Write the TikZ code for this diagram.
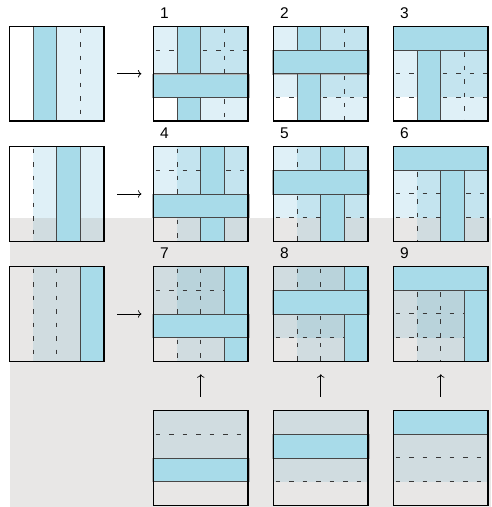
\documentclass[tikz,border=0pt]{standalone}
\usepackage{fontspec}
\setmainfont{Liberation Sans}
\usetikzlibrary{arrows.meta}
\definecolor{stripc}{HTML}{A8DBE9}
\definecolor{lightc}{HTML}{DFF0F7}
\definecolor{midc}{HTML}{C4E4EF}
\definecolor{bgc}{HTML}{E8E7E6}
\definecolor{lightg}{HTML}{D0DCE0}
\definecolor{midg}{HTML}{B9D3DB}
\newcommand\sqgrid[3]{\begin{scope}[shift={(#1pt,-#2pt)},x=23.625pt,y=-23.625pt]#3\end{scope}}
\newcommand\hstrip[1]{\filldraw[fs,draw=black!30,line width=.5pt] (-0.04,#1) rectangle (4.04,#1+1);
  \draw[sol] (0,#1)--(4,#1) (0,#1+1)--(4,#1+1);}
\newcommand\topstrip{\fill[fs] (0,0) rectangle (4,1); \draw[sol] (0,1)--(4,1);}
\tikzset{
  fs/.style={fill=stripc},
  fl/.style={fill=lightc},
  fm/.style={fill=midc},
  flg/.style={fill=lightg},
  fmg/.style={fill=midg},
  sol/.style={draw=black!72,line width=0.8pt},
  dsh/.style={draw=black!78,line width=1pt,dash pattern=on 4.5pt off 9pt,dash phase=-2pt},
  sqframe/.style={draw=black,line width=1.1pt,minimum size=94.5pt,inner sep=0pt,fill=none},
  lab/.style={anchor=base west,inner sep=0pt,font=\fontsize{15.5pt}{15.5pt}\selectfont},
  arr/.style={-{To[length=3.5pt,width=7.5pt]},line width=0.7pt,black}
}
\begin{document}
\begin{tikzpicture}[x=1pt,y=-1pt]
\useasboundingbox (0,0) rectangle (491,507);
\fill[bgc] (9.5,217.6) rectangle (491,506.5);

% ---------- row 1 ----------
\sqgrid{9.5}{26.5}{
 \fill[fs] (1,0) rectangle (2,4);
 \fill[fl] (2,0) rectangle (4,4);
 \draw[sol] (1,0)--(1,4) (2,0)--(2,4);
 \draw[dsh] (3,0)--(3,4);
}
\node[sqframe] (l1) at (9.5+47.25,26.5+47.25) {};

\sqgrid{153.5}{26.5}{
 \fill[fl] (0,0) rectangle (1,2);
 \fill[fs] (1,0) rectangle (2,4);
 \fill[fm] (2,0) rectangle (4,2);
 \fill[fl] (2,3) rectangle (4,4);
 \hstrip{2}
 \draw[sol] (1,0)--(1,2) (2,0)--(2,2) (1,3)--(1,4) (2,3)--(2,4);
 \draw[dsh] (0,1)--(1,1) (2,1)--(4,1) (3,0)--(3,2) (3,3)--(3,4);
}
\node[sqframe] (s1) at (153.5+47.25,26.5+47.25) {};

\sqgrid{273.5}{26.5}{
 \fill[fl] (0,0) rectangle (1,1); \fill[fm] (2,0) rectangle (4,1);
 \fill[fl] (0,2) rectangle (1,3); \fill[fm] (2,2) rectangle (4,3);
 \fill[fl] (2,3) rectangle (4,4);
 \fill[fs] (1,0) rectangle (2,4);
 \hstrip{1}
 \draw[sol] (1,0)--(1,1) (2,0)--(2,1) (1,2)--(1,4) (2,2)--(2,4);
 \draw[dsh] (0,3)--(1,3) (2,3)--(4,3) (3,0)--(3,1) (3,2)--(3,4);
}
\node[sqframe] (s2) at (273.5+47.25,26.5+47.25) {};

\sqgrid{393.5}{26.5}{
 \fill[fl] (0,1) rectangle (1,3); \fill[fm] (2,1) rectangle (4,3); \fill[fl] (2,3) rectangle (4,4);
 \fill[fs] (1,1) rectangle (2,4);
 \topstrip
 \draw[sol] (1,1)--(1,4) (2,1)--(2,4);
 \draw[dsh] (0,2)--(1,2) (2,2)--(4,2) (0,3)--(1,3) (2,3)--(4,3) (3,1)--(3,4);
}
\node[sqframe] (s3) at (393.5+47.25,26.5+47.25) {};

% ---------- row 2 ----------
\sqgrid{9.5}{146.7}{
 \fill[fl] (1,0) rectangle (2,3); \fill[fl] (3,0) rectangle (4,3);
 \fill[flg] (1,3) rectangle (2,4); \fill[flg] (3,3) rectangle (4,4);
 \fill[fs] (2,0) rectangle (3,4);
 \draw[sol] (2,0)--(2,4) (3,0)--(3,4);
 \draw[dsh] (1,0)--(1,4);
}
\node[sqframe] (l2) at (9.5+47.25,146.7+47.25) {};

\sqgrid{153.5}{146.7}{
 \fill[fl] (0,0) rectangle (1,2);
 \fill[fm] (1,0) rectangle (2,2);
 \fill[fs] (2,0) rectangle (3,4);
 \fill[fm] (3,0) rectangle (4,2);
 \fill[flg] (1,3) rectangle (2,4); \fill[flg] (3,3) rectangle (4,4);
 \hstrip{2}
 \draw[sol] (2,0)--(2,2) (3,0)--(3,2) (2,3)--(2,4) (3,3)--(3,4);
 \draw[dsh] (0,1)--(2,1) (3,1)--(4,1) (1,0)--(1,2) (1,3)--(1,4);
}
\node[sqframe] (s4) at (153.5+47.25,146.7+47.25) {};

\sqgrid{273.5}{146.7}{
 \fill[fl] (0,0) rectangle (1,1); \fill[fm] (1,0) rectangle (2,1); \fill[fm] (3,0) rectangle (4,1);
 \fill[fl] (0,2) rectangle (1,3); \fill[fm] (1,2) rectangle (2,3); \fill[fm] (3,2) rectangle (4,3);
 \fill[flg] (1,3) rectangle (2,4); \fill[flg] (3,3) rectangle (4,4);
 \fill[fs] (2,0) rectangle (3,4);
 \hstrip{1}
 \draw[sol] (2,0)--(2,1) (3,0)--(3,1) (2,2)--(2,4) (3,2)--(3,4);
 \draw[dsh] (0,3)--(2,3) (3,3)--(4,3) (1,0)--(1,1) (1,2)--(1,4);
}
\node[sqframe] (s5) at (273.5+47.25,146.7+47.25) {};

\sqgrid{393.5}{146.7}{
 \fill[fl] (0,1) rectangle (1,3); \fill[fm] (1,1) rectangle (2,3); \fill[fm] (3,1) rectangle (4,3);
 \fill[flg] (1,3) rectangle (2,4); \fill[flg] (3,3) rectangle (4,4);
 \fill[fs] (2,1) rectangle (3,4);
 \topstrip
 \draw[sol] (2,1)--(2,4) (3,1)--(3,4);
 \draw[dsh] (0,2)--(2,2) (3,2)--(4,2) (0,3)--(2,3) (3,3)--(4,3) (1,1)--(1,4);
}
\node[sqframe] (s6) at (393.5+47.25,146.7+47.25) {};

% ---------- row 3 ----------
\sqgrid{9.5}{266.7}{
 \fill[flg] (1,0) rectangle (3,4);
 \fill[fs] (3,0) rectangle (4,4);
 \draw[sol] (3,0)--(3,4);
 \draw[dsh] (1,0)--(1,4) (2,0)--(2,4);
}
\node[sqframe] (l3) at (9.5+47.25,266.7+47.25) {};

\sqgrid{153.5}{266.7}{
 \fill[flg] (0,0) rectangle (1,2); \fill[fmg] (1,0) rectangle (3,2);
 \fill[flg] (1,3) rectangle (3,4);
 \fill[fs] (3,0) rectangle (4,4);
 \hstrip{2}
 \draw[sol] (3,0)--(3,2) (3,3)--(3,4);
 \draw[dsh] (0,1)--(3,1) (1,0)--(1,2) (2,0)--(2,2) (1,3)--(1,4) (2,3)--(2,4);
}
\node[sqframe] (s7) at (153.5+47.25,266.7+47.25) {};

\sqgrid{273.5}{266.7}{
 \fill[flg] (0,0) rectangle (1,1); \fill[fmg] (1,0) rectangle (3,1);
 \fill[flg] (0,2) rectangle (1,3); \fill[fmg] (1,2) rectangle (3,3);
 \fill[flg] (1,3) rectangle (3,4);
 \fill[fs] (3,0) rectangle (4,4);
 \hstrip{1}
 \draw[sol] (3,0)--(3,1) (3,2)--(3,4);
 \draw[dsh] (0,3)--(3,3) (1,0)--(1,1) (2,0)--(2,1) (1,2)--(1,4) (2,2)--(2,4);
}
\node[sqframe] (s8) at (273.5+47.25,266.7+47.25) {};

\sqgrid{393.5}{266.7}{
 \fill[flg] (0,1) rectangle (1,3); \fill[fmg] (1,1) rectangle (3,3);
 \fill[flg] (1,3) rectangle (3,4);
 \fill[fs] (3,1) rectangle (4,4);
 \topstrip
 \draw[sol] (3,1)--(3,4);
 \draw[dsh] (0,2)--(3,2) (0,3)--(3,3) (1,1)--(1,4) (2,1)--(2,4);
}
\node[sqframe] (s9) at (393.5+47.25,266.7+47.25) {};

% ---------- row 4 ----------
\sqgrid{153.5}{410.7}{
 \fill[flg] (0,0) rectangle (4,2);
 \hstrip{2}
 \draw[dsh] (0,1)--(4,1);
}
\node[sqframe] (b7) at (153.5+47.25,410.7+47.25) {};

\sqgrid{273.5}{410.7}{
 \fill[flg] (0,0) rectangle (4,1); \fill[flg] (0,2) rectangle (4,3);
 \hstrip{1}
 \draw[dsh] (0,3)--(4,3);
}
\node[sqframe] (b8) at (273.5+47.25,410.7+47.25) {};

\sqgrid{393.5}{410.7}{
 \fill[flg] (0,1) rectangle (4,3);
 \topstrip
 \draw[dsh] (0,2)--(4,2) (0,3)--(4,3);
}
\node[sqframe] (b9) at (393.5+47.25,410.7+47.25) {};

% ---------- labels ----------
\node[lab] (n1) at (153.5+6.3,26.5-8.3) {1};
\node[lab] (n2) at (273.5+6.3,26.5-8.3) {2};
\node[lab] (n3) at (393.5+6.3,26.5-8.3) {3};
\node[lab] (n4) at (153.5+6.3,146.7-8.3) {4};
\node[lab] (n5) at (273.5+6.3,146.7-8.3) {5};
\node[lab] (n6) at (393.5+6.3,146.7-8.3) {6};
\node[lab] (n7) at (153.5+6.3,266.7-8.3) {7};
\node[lab] (n8) at (273.5+6.3,266.7-8.3) {8};
\node[lab] (n9) at (393.5+6.3,266.7-8.3) {9};

% ---------- arrows ----------
\draw[arr,shorten <=12.5pt,shorten >=11.5pt] (l1) -- (s1);
\draw[arr,shorten <=12.5pt,shorten >=11.5pt] (l2) -- (s4);
\draw[arr,shorten <=12.5pt,shorten >=11.5pt] (l3) -- (s7);
\draw[arr,shorten <=13.5pt,shorten >=12.5pt] (b7) -- (s7);
\draw[arr,shorten <=13.5pt,shorten >=12.5pt] (b8) -- (s8);
\draw[arr,shorten <=13.5pt,shorten >=12.5pt] (b9) -- (s9);
\end{tikzpicture}
\end{document}
